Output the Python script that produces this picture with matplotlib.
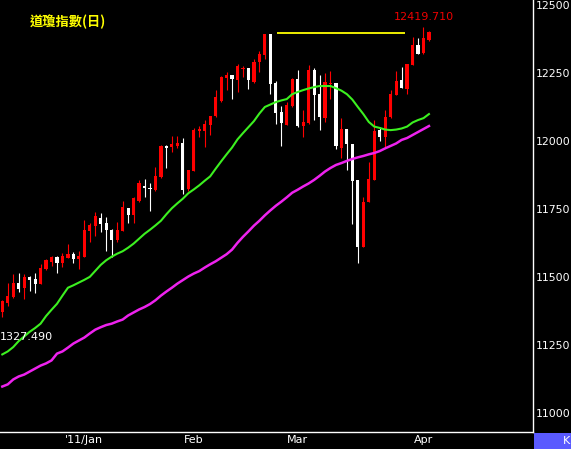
import matplotlib
matplotlib.use('Agg')
import matplotlib.pyplot as plt
from matplotlib.patches import Rectangle
from matplotlib.transforms import blended_transform_factory

# ---------------- data ----------------
title = "道瓊指數(日)"
month_pos = [15, 35, 54, 77]
month_labels = ["'11/Jan", "Feb", "Mar", "Apr"]
y_ticks = [11000, 11250, 11500, 11750, 12000, 12250, 12500]

opens = [11370, 11406, 11428, 11480, 11461, 11502, 11494, 11476, 11531, 11557,
         11575, 11553, 11571, 11586, 11568, 11575, 11670, 11689, 11718, 11700,
         11674, 11637, 11670, 11755, 11729, 11780, 11835, 11828, 11821, 11868,
         11982, 11978, 11982, 11993, 11824, 11890, 12037, 12037, 12059, 12092,
         12147, 12231, 12242, 12224, 12264, 12268, 12216, 12290, 12315, 12392,
         12213, 12106, 12059, 12128, 12227, 12055, 12066, 12260, 12172, 12084,
         12209, 12213, 11974, 12044, 11989, 11857, 11612, 11777, 11857, 12040,
         12015, 12088, 12169, 12224, 12191, 12279, 12352, 12323, 12370]
highs = [11417, 11480, 11513, 11516, 11513, 11503, 11516, 11549, 11568, 11579,
         11576, 11590, 11623, 11593, 11597, 11711, 11700, 11740, 11736, 11722,
         11675, 11703, 11780, 11755, 11795, 11857, 11861, 11846, 11905, 11986,
         11986, 12018, 12018, 12011, 11895, 12048, 12055, 12077, 12093, 12187,
         12237, 12253, 12243, 12282, 12275, 12269, 12301, 12330, 12393, 12394,
         12220, 12128, 12143, 12231, 12260, 12114, 12279, 12268, 12242, 12249,
         12257, 12214, 12084, 12045, 11990, 11858, 11795, 11923, 12077, 12051,
         12114, 12187, 12257, 12271, 12283, 12381, 12378, 12419.71, 12403]
lows = [11355, 11395, 11425, 11447, 11421, 11450, 11443, 11474, 11527, 11542,
        11516, 11538, 11570, 11553, 11531, 11574, 11630, 11652, 11667, 11597,
        11575, 11630, 11668, 11700, 11700, 11777, 11795, 11744, 11817, 11865,
        11901, 11960, 11974, 11806, 11817, 11889, 12015, 11978, 12022, 12090,
        12145, 12187, 12154, 12180, 12235, 12191, 12214, 12253, 12301, 12172,
        12062, 11982, 12057, 12126, 12051, 12015, 12064, 12077, 12040, 12070,
        12154, 11971, 11938, 11894, 11696, 11553, 11610, 11775, 11856, 12000,
        11978, 12086, 12168, 12193, 12172, 12278, 12318, 12321, 12367]
closes = [11414, 11432, 11480, 11458, 11502, 11491, 11476, 11535, 11564, 11575,
          11553, 11579, 11586, 11568, 11579, 11674, 11692, 11725, 11696, 11674,
          11637, 11674, 11758, 11729, 11791, 11846, 11828, 11824, 11872, 11982,
          11974, 11989, 11993, 11821, 11894, 12040, 12044, 12062, 12092, 12161,
          12235, 12242, 12227, 12275, 12270, 12224, 12290, 12319, 12392, 12209,
          12103, 12066, 12132, 12227, 12055, 12070, 12260, 12169, 12088, 12216,
          12213, 11982, 12044, 11989, 11854, 11612, 11777, 11861, 12037, 12016,
          12088, 12172, 12220, 12194, 12282, 12352, 12319, 12378, 12400]

ma_short = [11216, 11227, 11243, 11265, 11282, 11299, 11313, 11329, 11357, 11380,
            11402, 11432, 11461, 11470, 11480, 11490, 11501, 11523, 11545, 11562,
            11575, 11586, 11595, 11608, 11623, 11641, 11659, 11674, 11690, 11707,
            11731, 11753, 11771, 11788, 11808, 11822, 11837, 11854, 11870, 11898,
            11925, 11951, 11976, 12006, 12029, 12051, 12073, 12101, 12125, 12134,
            12143, 12149, 12154, 12172, 12180, 12187, 12193, 12198, 12202, 12202,
            12202, 12194, 12185, 12172, 12152, 12125, 12099, 12070, 12053, 12048,
            12042, 12040, 12042, 12046, 12053, 12068, 12077, 12084, 12099]
ma_long = [11098, 11106, 11124, 11135, 11142, 11153, 11164, 11175, 11183, 11194,
           11219, 11227, 11241, 11256, 11267, 11278, 11293, 11307, 11316, 11324,
           11329, 11337, 11344, 11359, 11370, 11381, 11390, 11401, 11415, 11432,
           11447, 11461, 11476, 11489, 11502, 11513, 11522, 11535, 11547, 11558,
           11571, 11584, 11601, 11626, 11648, 11668, 11689, 11707, 11727, 11745,
           11762, 11777, 11793, 11810, 11821, 11833, 11844, 11857, 11872, 11888,
           11901, 11912, 11919, 11927, 11934, 11940, 11945, 11951, 11956, 11963,
           11973, 11982, 11991, 12004, 12011, 12022, 12033, 12044, 12055]

resist_level = 12395
resist_span = [50.2, 73.6]
high_label = "12419.710"
low_label = "1327.490"
low_label_value = 11281

# ---------------- figure ----------------
W, H = 571, 449
fig = plt.figure(figsize=(W / 100, H / 100), dpi=100, facecolor='black')
ax = fig.add_axes([0, 17 / H, 533 / W, 432 / H])
ax.set_facecolor('black')
ax.set_xlim(-0.42, 97.02)
ax.set_ylim(10931, 12518)

UP = '#ff0000'
DOWN = '#ffffff'
bw = 0.58
px = (12518 - 10931) / 432.0
for i, (o, h, l, c) in enumerate(zip(opens, highs, lows, closes)):
    col = UP if c >= o else DOWN
    ax.vlines(i, l, h, color=col, lw=0.8, zorder=3)
    lo = min(o, c)
    ht = max(abs(c - o), px)
    ax.add_patch(Rectangle((i - bw / 2, lo), bw, ht, facecolor=col,
                           edgecolor='none', zorder=4))

xs = list(range(len(ma_short)))
ax.plot(xs, ma_short, color='#3cf020', lw=1.5, zorder=5)
ax.plot(xs, ma_long, color='#ee22ee', lw=1.8, zorder=5)

ax.hlines(resist_level, resist_span[0], resist_span[1], color='#ffff00', lw=1.3, zorder=6)

ax.text(77, max(highs) + 37, high_label, color='#ee0000', fontsize=8,
        ha='center', va='center', zorder=7)
ax.text(0, low_label_value, low_label, color='white', fontsize=8,
        ha='left', va='center', zorder=7,
        transform=blended_transform_factory(fig.transFigure, ax.transData))

fig.text(30 / W, 1 - 21.5 / H, title, color='#ffff00', fontsize=9.5,
         fontweight='bold', family=['Noto Sans CJK TC', 'DejaVu Sans'],
         ha='left', va='center')

ax.yaxis.tick_right()
ax.set_yticks(y_ticks)
ax.set_yticklabels([str(v) for v in y_ticks])
ax.set_xticks(month_pos)
ax.set_xticklabels(month_labels)
ax.tick_params(axis='y', length=0, pad=2.2, labelcolor='white', labelsize=7.8)
ax.tick_params(axis='x', length=0, pad=2.5, labelcolor='white', labelsize=8)

for s in ['top', 'left']:
    ax.spines[s].set_visible(False)
for s in ['right', 'bottom']:
    ax.spines[s].set_color('white')
    ax.spines[s].set_linewidth(1.0)

fig.patches.append(Rectangle((534 / W, 0), 37 / W, 16 / H, transform=fig.transFigure,
                             facecolor='#5a5aff', edgecolor='none'))
fig.text(563 / W, 8 / H, "K", color='white', fontsize=8, ha='left', va='center')

fig.savefig('out.png', dpi=100, facecolor='black')
